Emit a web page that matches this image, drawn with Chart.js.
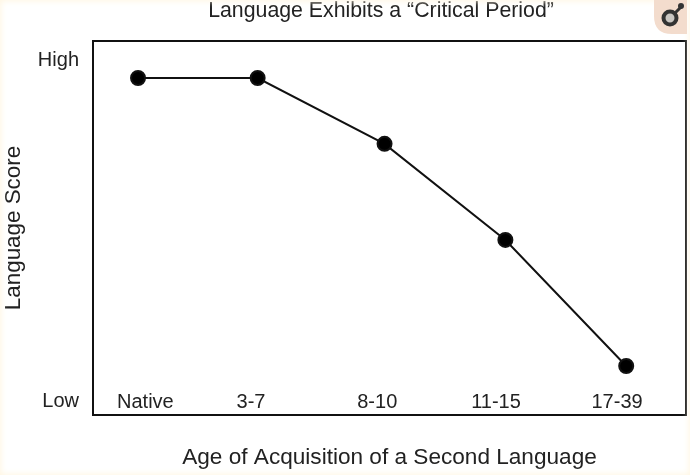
<!DOCTYPE html>
<html>
<head>
<meta charset="utf-8">
<script src="https://cdn.jsdelivr.net/npm/chart.js@4"></script>
<style>
    html, body { margin: 0; padding: 0; background: #fff; overflow: hidden; }
    #wrap { position: relative; width: 690px; height: 475px; }
    #edge { position: absolute; inset: 0; box-shadow: inset 0 0 6px 1px #fff6e2; pointer-events: none; }
    #badge { position: absolute; left: 654px; top: 0; }
</style>
</head>
<body>
<div id="wrap">
    <canvas id="chart" width="690" height="475"></canvas>
    <div id="edge"></div>
    <svg id="badge" width="34" height="34" viewBox="0 0 34 34">
        <path d="M0 0H33V34H18Q0 34 0 16Z" fill="#f3dccd"/>
        <circle cx="16" cy="18" r="6.5" fill="#c9c6c2" stroke="#333" stroke-width="4"/>
        <path d="M21 13L27 7" stroke="#333" stroke-width="3"/>
        <circle cx="27" cy="6" r="3" fill="#333"/>
    </svg>
</div>
<script>
const categories = ['Native', '3-7', '8-10', '11-15', '17-39'];
const pointX = [0, 0.98, 2.02, 3.01, 4];
const scores = [90.1, 90.1, 72.5, 46.8, 13.1];
const labelX = [0.06, 0.926, 1.96, 2.933, 3.925];
const levelLabels = ['Low', 'High'];
const levelValues = [3.7, 94.7];

const chartTitle = 'Language Exhibits a \u201cCritical Period\u201d';
const fontFamily = '"Liberation Sans", Arial, sans-serif';
const textColor = '#222';

// title sits off centre in the original, and the box needs all four sides
const framePlugin = {
    id: 'frame',
    afterDatasetsDraw(chart) {
        const { ctx, chartArea: a } = chart;
        ctx.save();
        ctx.strokeStyle = '#111';
        ctx.lineWidth = 2;
        ctx.strokeRect(a.left, a.top, a.right - a.left, a.bottom - a.top);
        ctx.fillStyle = textColor;
        ctx.font = '21.3px ' + fontFamily;
        ctx.textAlign = 'center';
        ctx.textBaseline = 'middle';
        ctx.fillText(chartTitle, 381, 11);
        ctx.restore();
    }
};

new Chart(document.getElementById('chart'), {
    type: 'line',
    data: {
        datasets: [{
            data: pointX.map((x, i) => ({ x: x, y: scores[i] })),
            borderColor: '#111',
            borderWidth: 2,
            backgroundColor: '#000',
            pointRadius: 7,
            pointHoverRadius: 7,
            tension: 0,
            clip: false
        }]
    },
    options: {
        responsive: false,
        animation: false,
        layout: { autoPadding: false, padding: { top: 41, right: 4, left: 0, bottom: 0 } },
        plugins: { legend: { display: false }, tooltip: { enabled: false } },
        scales: {
            x: {
                type: 'linear',
                min: -0.369,
                max: 4.49,
                grid: { display: false, drawTicks: false },
                border: { display: false },
                afterBuildTicks(scale) {
                    scale.ticks = labelX.map(v => ({ value: v }));
                },
                afterFit(scale) {
                    scale.height = 60;
                    scale.paddingLeft = 0;
                    scale.paddingRight = 0;
                },
                ticks: {
                    autoSkip: false,
                    maxRotation: 0,
                    mirror: true,
                    padding: 1,
                    color: textColor,
                    font: { family: fontFamily, size: 20 },
                    callback(value, i) { return categories[i]; }
                },
                title: {
                    display: true,
                    text: 'Age of Acquisition of a Second Language',
                    color: textColor,
                    font: { family: fontFamily, size: 22.6 },
                    padding: { top: 0, bottom: 4 }
                }
            },
            y: {
                min: 0,
                max: 100,
                grid: { display: false, drawTicks: false },
                border: { display: false },
                afterBuildTicks(scale) {
                    scale.ticks = levelValues.map(v => ({ value: v }));
                },
                afterFit(scale) { scale.width = 93; },
                ticks: {
                    autoSkip: false,
                    padding: 14,
                    color: textColor,
                    font: { family: fontFamily, size: 20 },
                    callback(value, i) { return levelLabels[i]; }
                },
                title: {
                    display: true,
                    text: 'Language Score',
                    color: textColor,
                    font: { family: fontFamily, size: 22.4 },
                    padding: { top: 0, bottom: 0 }
                }
            }
        }
    },
    plugins: [framePlugin]
});
</script>
</body>
</html>
